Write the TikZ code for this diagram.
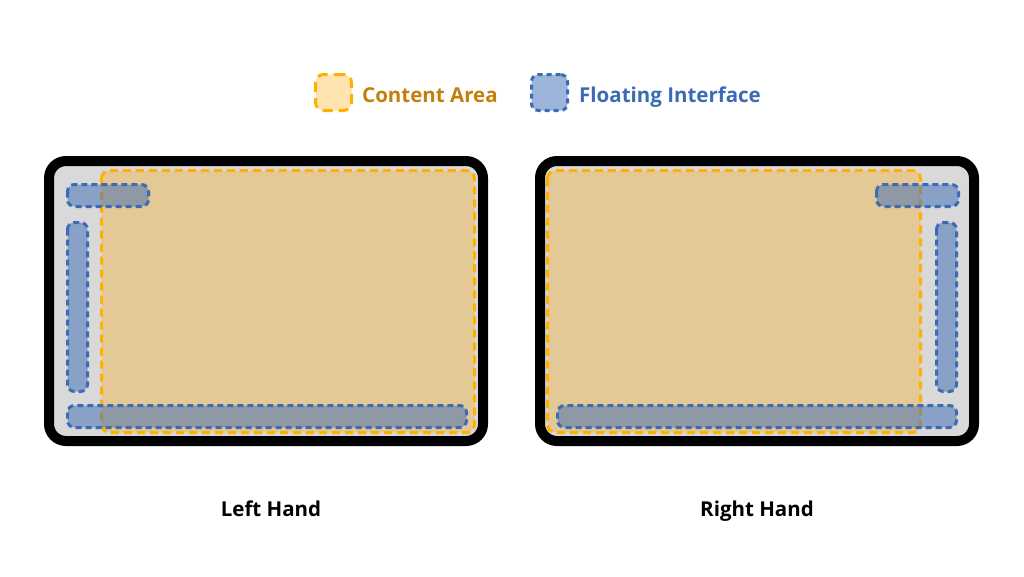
\documentclass[tikz,border=0pt]{standalone}
\usepackage{fontspec}
\setmainfont{Open Sans}
\usetikzlibrary{positioning}
\definecolor{contentfill}{HTML}{FFA500}
\definecolor{contentline}{HTML}{FFB000}
\definecolor{contenttext}{HTML}{C47F0A}
\definecolor{floatblue}{HTML}{3B6BB5}
\definecolor{screengray}{HTML}{D9D9D9}

\begin{document}
\begin{tikzpicture}[x=1pt,y=-1pt,
  frame/.style={line width=10pt,rounded corners=17pt,fill=screengray},
  content/.style={draw=contentline,fill=contentfill,fill opacity=0.3,line width=3pt,dash pattern=on 8pt off 5pt,rounded corners=8pt},
  floating/.style={draw=floatblue,fill=floatblue,fill opacity=0.5,line width=3pt,dash pattern=on 6pt off 4pt,rounded corners=7pt},
  keybox/.style={minimum size=36pt,inner sep=0pt,rounded corners=6pt},
  keytext/.style={anchor=base west,inner sep=0pt,font=\bfseries\fontsize{20.5}{24}\selectfont},
  caption/.style={anchor=base,inner sep=0pt,font=\bfseries\fontsize{20.5}{24}\selectfont}]
\useasboundingbox (0,0) rectangle (1024,576);

% legend
\node[keybox,content,dash pattern=on 10pt off 6pt] (contentkey) at (333.5,92.5) {};
\node[keytext,contenttext] (contentlabel) at (362,102) {Content Area};
\node[keybox,floating,dash pattern=on 5pt off 4pt] (floatkey) at (549.5,92.5) {};
\node[keytext,floatblue] (floatlabel) at (579,102) {Floating Interface};

% left hand device
\draw[frame] (49,161) rectangle (483,441);
\draw[content] (101.5,170.5) rectangle (474.5,432.5);
\draw[floating] (67.5,184.5) rectangle (148.5,206.5);
\draw[floating] (67.5,222.5) rectangle (87.5,391.5);
\draw[floating] (67.5,405.5) rectangle (466.5,427.5);
\node[caption] (lefthand) at (271,516) {Left Hand};

% right hand device
\draw[frame] (540,161) rectangle (974,441);
\draw[content] (547.5,170.5) rectangle (920.5,432.5);
\draw[floating] (876.5,184.5) rectangle (958.5,206.5);
\draw[floating] (936.5,222.5) rectangle (956.5,391.5);
\draw[floating] (557.5,405.5) rectangle (956.5,427.5);
\node[caption] (righthand) at (757,516) {Right Hand};
\end{tikzpicture}
\end{document}
